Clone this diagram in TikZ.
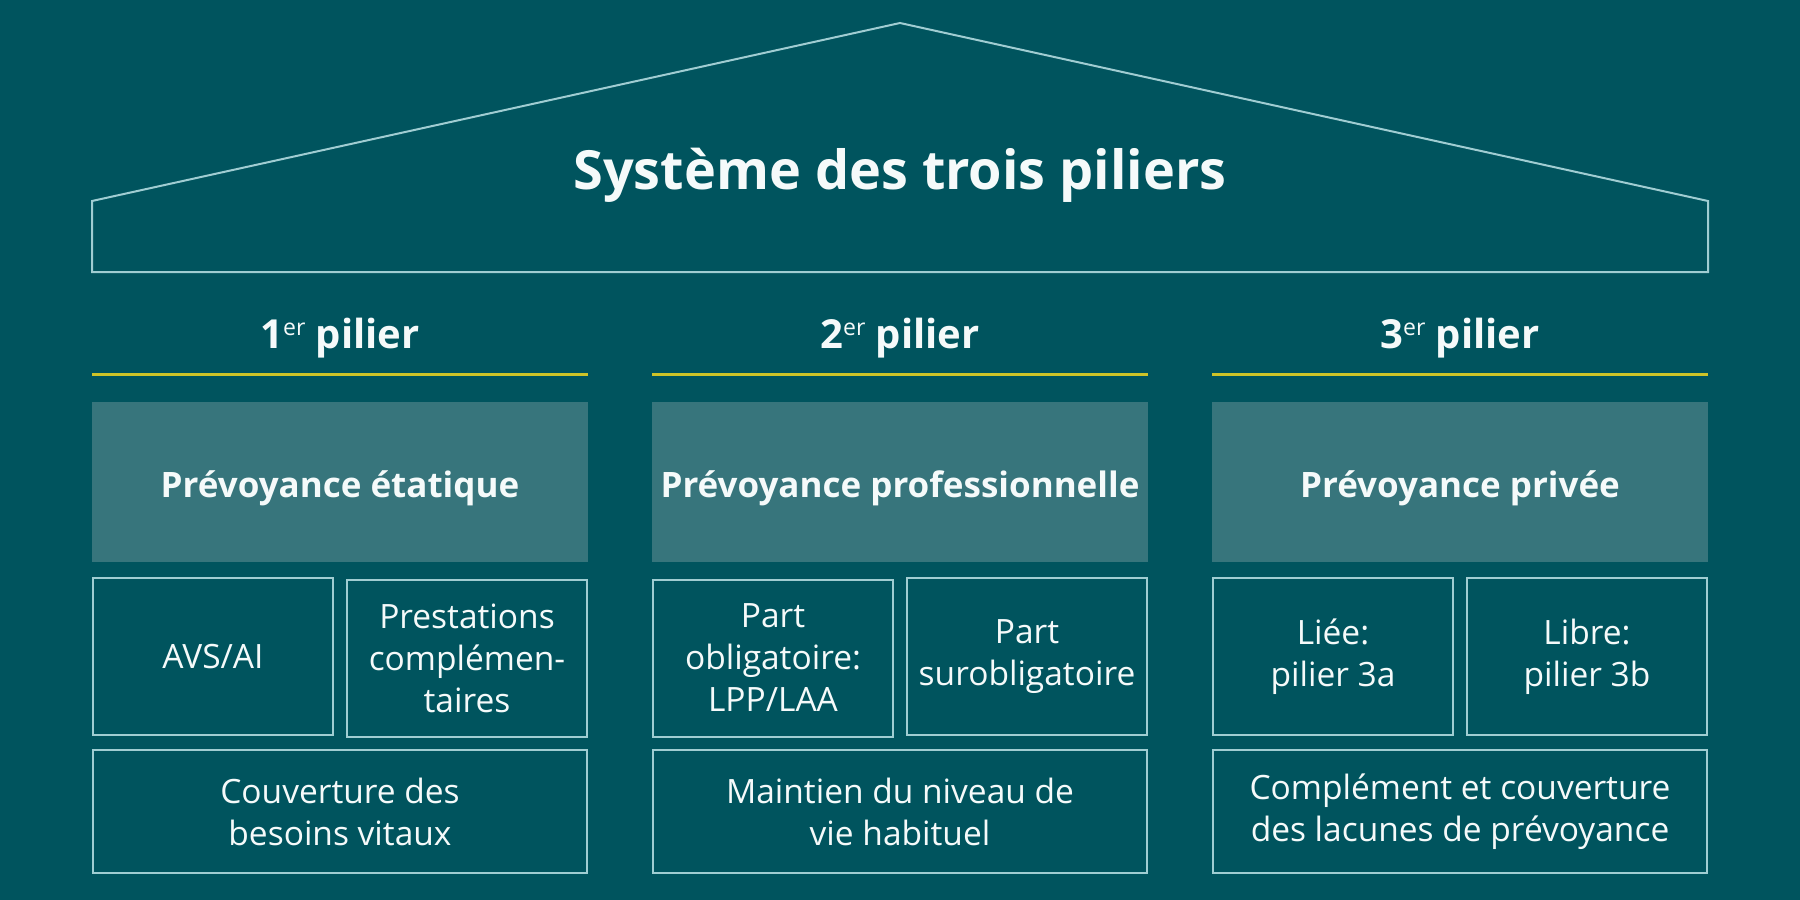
\documentclass[tikz,border=0pt]{standalone}
\usepackage{fontspec}
\setmainfont{Open Sans}
\definecolor{bgteal}{RGB}{0,84,94}
\definecolor{boxgray}{RGB}{55,117,124}
\definecolor{linelight}{RGB}{160,205,210}
\definecolor{goldline}{RGB}{205,195,40}
\definecolor{txtwhite}{RGB}{245,250,250}
\newcommand{\supER}{\raisebox{13pt}{\fontsize{23}{23}\selectfont\mdseries er}}
\tikzset{
  roofline/.style={draw=linelight, line width=2pt, line join=miter},
  titletext/.style={text=txtwhite, font=\fontsize{54}{60}\selectfont\bfseries, inner sep=0pt},
  headtext/.style={text=txtwhite, font=\fontsize{40}{46}\selectfont\bfseries, inner sep=0pt},
  yellowline/.style={draw=goldline, line width=3pt},
  graybox/.style={fill=boxgray, draw=none, minimum width=496pt, minimum height=160pt, inner sep=0pt,
     text height=34pt, text depth=4pt,
     text=txtwhite, font=\fontsize{35}{40}\selectfont\bfseries},
  smallbox/.style={draw=linelight, line width=2pt, minimum width=240pt, minimum height=157pt, inner sep=0pt,
     text=txtwhite, align=center, font=\fontsize{33.5}{42}\selectfont},
  widebox/.style={draw=linelight, line width=2pt, minimum width=494pt, minimum height=123pt, inner sep=0pt,
     text=txtwhite, align=center, font=\fontsize{33.5}{42}\selectfont}
}
\begin{document}
\begin{tikzpicture}[x=1pt,y=-1pt]
\fill[bgteal] (0,0) rectangle (1800,900);
\useasboundingbox (0,0) rectangle (1800,900);
% roof
\coordinate (floorL) at (92,272);
\coordinate (eaveL) at (92,201);
\coordinate (peak) at (900,23);
\coordinate (eaveR) at (1708,201);
\coordinate (floorR) at (1708,272);
\draw[roofline] (floorL) -- (eaveL) -- (peak) -- (eaveR) -- (floorR) -- cycle;
\node[titletext, anchor=base] (title) at (900,189) {Système des trois piliers};
% headers
\node[headtext, anchor=base] (h1) at (340,348) {1\supER\ pilier};
\node[headtext, anchor=base] (h2) at (900,348) {2\supER\ pilier};
\node[headtext, anchor=base] (h3) at (1460,348) {3\supER\ pilier};
\coordinate (y1a) at (92,374);   \coordinate (y1b) at (588,374);
\coordinate (y2a) at (652,374);  \coordinate (y2b) at (1148,374);
\coordinate (y3a) at (1212,374); \coordinate (y3b) at (1708,374);
\draw[yellowline] (y1a) -- (y1b);
\draw[yellowline] (y2a) -- (y2b);
\draw[yellowline] (y3a) -- (y3b);
% gray boxes
\node[graybox] (g1) at (340,482) {Prévoyance étatique};
\node[graybox] (g2) at (900,482) {Prévoyance professionnelle};
\node[graybox] (g3) at (1460,482) {Prévoyance privée};
% small boxes
\node[smallbox] (s1) at (213,656.5) {AVS/AI};
\node[smallbox] (s2) at (467,658) {Prestations\\complémen-\\taires};
\node[smallbox] (s3) at (773,658) {Part\\obligatoire:\\LPP/LAA};
\node[smallbox] (s4) at (1027,656.5) {Part\\surobligatoire};
\node[smallbox] (s5) at (1333,656.5) {Liée:\\pilier 3a};
\node[smallbox] (s6) at (1587,656.5) {Libre:\\pilier 3b};
% bottom boxes
\node[widebox] (b1) at (340,811.5) {Couverture des\\besoins vitaux};
\node[widebox] (b2) at (900,811.5) {Maintien du niveau de\\vie habituel};
\node[widebox] (b3) at (1460,811.5) {Complément et couverture\\des lacunes de prévoyance};
\end{tikzpicture}
\end{document}
